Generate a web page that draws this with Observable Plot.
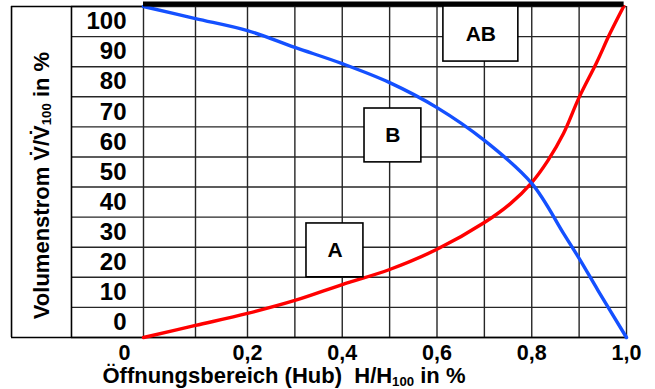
<!DOCTYPE html>
<html><head><meta charset="utf-8">
<script src="https://cdn.jsdelivr.net/npm/d3@7"></script>
<script src="https://cdn.jsdelivr.net/npm/@observablehq/plot@0.6"></script>
<style>body{margin:0;background:#fff} svg text{white-space:pre}</style>
</head><body><div id="chart"></div>
<script>
// grid and ticks
const xGrid = [0, 0.1, 0.2, 0.3, 0.4, 0.5, 0.6, 0.7, 0.8, 0.9, 1.0];
const yGrid = [-5, 5, 15, 25, 35, 45, 55, 65, 75, 85, 95, 105];
const yTicks = [0, 10, 20, 30, 40, 50, 60, 70, 80, 90, 100];
const yTickLabels = ["0", "10", "20", "30", "40", "50", "60", "70", "80", "90", "100"];
const xTicks = [0, 0.2, 0.4, 0.6, 0.8, 1.0];
const xTickLabels = ["0", "0,2", "0,4", "0,6", "0,8", "1,0"];
// curve A (red)
const aX = [0, 0.1, 0.2, 0.3, 0.4, 0.5, 0.6, 0.7, 0.755, 0.8, 0.834, 0.867, 0.9, 0.937, 0.965, 0.994];
const aY = [-5, -1, 3, 7.3, 12.6, 17.6, 24.3, 33.2, 39.5, 46.5, 53.8, 62.8, 74.8, 86.4, 96, 105];
// curve B (blue)
const bX = [0, 0.1, 0.2, 0.3, 0.4, 0.5, 0.6, 0.7, 0.8, 0.867, 0.9, 0.94, 1.0];
const bY = [105, 101, 97, 91.4, 86, 79.7, 71.4, 60.5, 46.2, 29.6, 21.3, 10.6, -5];
// AB: constant
const abLevel = [105];
// port labels
const portNames = ["A", "B", "AB"];
const portX1 = [0.3245, 0.447, 0.6135];
const portX2 = [0.4447, 0.567, 0.7717];
const portY1 = [15.0, 53.2, 86.7];
const portY2 = [32.9, 71.1, 105];
// titles
const yTitle = "Volumenstrom V\u0307/V\u0307_100 in %";
const xTitle = "Öffnungsbereich (Hub)  H/H_100 in %";

const titleColLeft = -0.2538, labelColLeft = -0.1385;
const A = aX.map((x, i) => ({x, y: aY[i]}));
const B = bX.map((x, i) => ({x, y: bY[i]}));
const ports = portNames.map((n, i) => ({n, x1: portX1[i], x2: portX2[i], y1: portY1[i], y2: portY2[i], cx: (portX1[i] + portX2[i]) / 2, cy: (portY1[i] + portY2[i]) / 2}));
const xt = xTicks.map((v, i) => ({v, label: xTickLabels[i]}));
const gridC = "#262626";

const chart = Plot.plot({
  width: 655, height: 389,
  x: {type: "linear", domain: [0, 0.1, 0.2, 1], range: [143, 195, 247, 626], axis: null},
  y: {domain: [-5, 105], range: [337, 6], axis: null},
  style: {fontFamily: "'Liberation Sans', Arial, sans-serif", background: "white", overflow: "visible"},
  marks: [
    Plot.ruleX(xGrid, {y1: -5, y2: 105, stroke: gridC, strokeWidth: 1.4}),
    Plot.ruleY(yGrid, {x1: labelColLeft, x2: 1, stroke: gridC, strokeWidth: 1.4}),
    Plot.ruleX([titleColLeft, labelColLeft], {y1: -5, y2: 105, stroke: "#000", strokeWidth: 1.6}),
    Plot.ruleY([-5], {x1: titleColLeft, x2: 1, stroke: "#000", strokeWidth: 1.6}),
    Plot.ruleY([105], {x1: titleColLeft, x2: 0, stroke: "#000", strokeWidth: 1.4}),
    Plot.line(A, {x: "x", y: "y", stroke: "#ff0000", strokeWidth: 3.4, curve: "catmull-rom"}),
    Plot.line(B, {x: "x", y: "y", stroke: "#1450ff", strokeWidth: 3.4, curve: "catmull-rom"}),
    Plot.ruleY(abLevel, {x1: 0, x2: 0.995, stroke: "#000", strokeWidth: 5, dy: -2.5}),
    Plot.rect(ports, {x1: "x1", x2: "x2", y1: "y1", y2: "y2", fill: "white", stroke: "#000", strokeWidth: 1.6}),
    Plot.text(ports, {x: "cx", y: "cy", text: "n", fontSize: 21, fontWeight: "bold", fill: "#000"}),
    Plot.text(yTicks, {x: -0.0327, y: (d) => d, text: (d, i) => yTickLabels[i], textAnchor: "end", fontSize: 24, fontWeight: "bold", fill: "#000"}),
    Plot.text(xt, {filter: (d, i) => i === 0, x: "v", y: -10.3, text: "label", dx: -19, fontSize: 21.5, fontWeight: "bold", fill: "#000"}),
    Plot.text(xt, {filter: (d, i) => i > 0, x: "v", y: -10.3, text: "label", fontSize: 21.5, fontWeight: "bold", fill: "#000"}),
    Plot.text([xTitle], {x: 0.277, y: -17.9, text: (d) => d, fontSize: 22, fontWeight: "bold", fill: "#000"}),
    Plot.text([yTitle], {x: -0.196, y: 45.5, text: (d) => d, rotate: -90, fontSize: 22, fontWeight: "bold", fill: "#000"})
  ]
});

// subscripts
d3.select(chart).selectAll("text").each(function () {
  const t = this.textContent;
  if (!t.includes("_")) return;
  const parts = t.split(/_(\d+)/);
  const sel = d3.select(this);
  sel.text(null);
  parts.forEach((p, i) => {
    const ts = sel.append("tspan").text(p);
    if (i % 2 === 1) ts.attr("font-size", "0.6em").attr("dy", "0.2em");
    else if (i > 0) ts.attr("dy", "-0.12em");
  });
});
document.getElementById("chart").appendChild(chart);
</script></body></html>
